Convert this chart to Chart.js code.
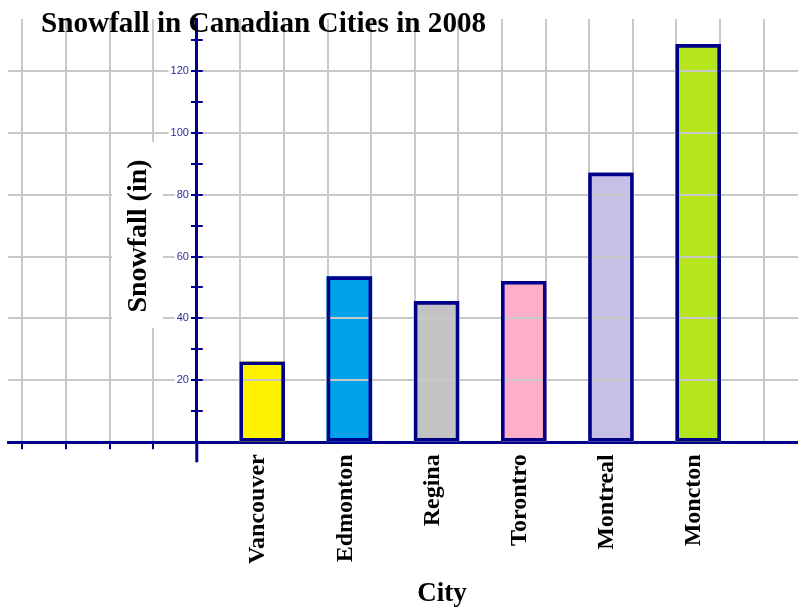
<!DOCTYPE html>
<html>
<head>
<meta charset="utf-8">
<title>Snowfall in Canadian Cities in 2008</title>
<script src="https://cdn.jsdelivr.net/npm/chart.js@4.4.1/dist/chart.umd.min.js"></script>
<style>
  html, body { margin: 0; padding: 0; background: #fff; }
  #wrap { width: 798px; height: 607px; position: relative; }
</style>
</head>
<body>
<div id="wrap"><canvas id="snowChart"></canvas></div>
<script>
// ===================== DATA =====================

const cities      = ['Vancouver', 'Edmonton', 'Regina', 'Torontro', 'Montreal', 'Moncton'];
const snowfall    = [26, 53.5, 45.5, 52, 87, 128.5];          // inches
const cityPos     = [1.5, 3.5, 5.5, 7.5, 9.5, 11.5];          // grid cells right of the y axis
const barColors   = ['#fff200', '#00a2e8', '#c3c3c3', '#ffaec9', '#c8bfe7', '#b5e61d'];
const yTickLabels = [20, 40, 60, 80, 100, 120];

const chartTitle = 'Snowfall in Canadian Cities in 2008';
const yTitle     = 'Snowfall (in)';
const xTitle     = 'City';

// ===================== STYLE =====================

const NAVY  = '#00008b';
const GRID  = '#c8c8c8';
const SERIF = "'Liberation Serif', 'Times New Roman', serif";
const Y_MAX = 136.7;

const barPoints = cities.map((c, i) => ({ x: cityPos[i], y: snowfall[i] }));
const isLabelled = ctx => !!ctx.tick && yTickLabels.includes(ctx.tick.value);

// sketchpad look: outlines over grid, axis stub, both-sided ticks, titles
const sketchpadExtras = {
    id: 'sketchpadExtras',
    afterDraw(chart) {
        const { ctx, chartArea, scales } = chart;
        const x0 = scales.x.getPixelForValue(0);

        // outlines back on top of the horizontal grid
        chart.getDatasetMeta(1).controller.draw();

        ctx.save();
        ctx.strokeStyle = NAVY;

        // y axis runs a little below the x axis
        ctx.lineWidth = 3;
        ctx.beginPath();
        ctx.moveTo(x0, chartArea.bottom);
        ctx.lineTo(x0, chartArea.bottom + 20);
        ctx.stroke();

        // right half of the y tick marks
        ctx.lineWidth = 2;
        scales.y.ticks.forEach(t => {
            if (t.value === 0) return;
            const py = Math.round(scales.y.getPixelForValue(t.value));
            ctx.beginPath();
            ctx.moveTo(x0, py);
            ctx.lineTo(x0 + 6, py);
            ctx.stroke();
        });

        // chart title
        ctx.fillStyle = '#000';
        ctx.font = 'bold 29.2px ' + SERIF;
        ctx.textAlign = 'left';
        ctx.textBaseline = 'alphabetic';
        ctx.fillText(chartTitle, 41, 32);

        // x title
        ctx.font = 'bold 27px ' + SERIF;
        ctx.textAlign = 'center';
        ctx.fillText(xTitle, 442, 601);

        // y title on a white patch
        ctx.fillStyle = '#fff';
        ctx.fillRect(112, 142, 51, 186);
        ctx.fillStyle = '#000';
        ctx.translate(146, 236);
        ctx.rotate(-Math.PI / 2);
        ctx.font = 'bold 28px ' + SERIF;
        ctx.textAlign = 'center';
        ctx.fillText(yTitle, 0, 0);
        ctx.restore();
    }
};

new Chart(document.getElementById('snowChart'), {
    type: 'bar',
    data: {
        datasets: [
            {
                data: barPoints,
                backgroundColor: barColors,
                borderWidth: 0,
                grouped: false,
                barThickness: 45
            },
            {
                data: barPoints,
                backgroundColor: 'transparent',
                borderColor: NAVY,
                borderWidth: 3,
                borderSkipped: false,
                grouped: false,
                barThickness: 45
            }
        ]
    },
    options: {
        responsive: true,
        maintainAspectRatio: false,
        animation: false,
        events: [],
        layout: { padding: { left: 8, right: 0, top: 19, bottom: 0 } },
        plugins: {
            legend: { display: false },
            tooltip: { enabled: false }
        },
        scales: {
            x: {
                type: 'linear',
                position: 'bottom',
                min: -4.33,
                max: 13.79,
                offset: false,
                ticks: { stepSize: 1, includeBounds: false, display: false },
                grid: {
                    offset: false,
                    color: GRID,
                    lineWidth: 2,
                    drawTicks: true,
                    tickLength: 7,
                    tickWidth: 2,
                    tickColor: ctx => (ctx.tick && ctx.tick.value < 0) ? NAVY : 'transparent'
                },
                border: { color: NAVY, width: 3 },
                afterFit: scale => { scale.height = 8; }
            },
            x2: {
                type: 'linear',
                position: 'bottom',
                min: -4.24,
                max: 13.88,
                offset: false,
                grid: { display: false, drawTicks: false, offset: false },
                border: { display: false },
                afterBuildTicks: scale => {
                    scale.ticks = cityPos.map(v => ({ value: v }));
                },
                ticks: {
                    autoSkip: false,
                    minRotation: 90,
                    maxRotation: 90,
                    padding: 4,
                    color: '#000',
                    font: { family: SERIF, size: 24, weight: 'bold' },
                    callback: (value, index) => cities[index]
                },
                afterFit: scale => { scale.height = 156.7; }
            },
            // axis line, grid and tick marks
            y: {
                type: 'linear',
                position: { x: 0 },
                min: 0,
                max: Y_MAX,
                ticks: { stepSize: 10, includeBounds: false, display: false },
                grid: {
                    z: 1,
                    color: ctx => isLabelled(ctx) ? GRID : 'transparent',
                    lineWidth: 2,
                    drawTicks: true,
                    tickLength: 4,
                    tickWidth: 2,
                    tickColor: ctx => (ctx.tick && ctx.tick.value === 0) ? 'transparent' : NAVY
                },
                border: { color: NAVY, width: 3, z: 3 }
            },
            // numbers, set a few pixels left of the axis
            yLabels: {
                type: 'linear',
                axis: 'y',
                position: { x: -0.18 },
                min: 0,
                max: Y_MAX,
                grid: { display: false },
                border: { display: false },
                ticks: {
                    stepSize: 20,
                    includeBounds: false,
                    z: 2,
                    color: '#2e2e9c',
                    font: { family: "'Liberation Sans', Arial, sans-serif", size: 11 },
                    showLabelBackdrop: true,
                    backdropPadding: 2,
                    backdropColor: ctx => isLabelled(ctx) ? '#fff' : 'transparent',
                    callback: value => yTickLabels.includes(value) ? String(value) : ''
                }
            }
        }
    },
    plugins: [sketchpadExtras]
});
</script>
</body>
</html>
